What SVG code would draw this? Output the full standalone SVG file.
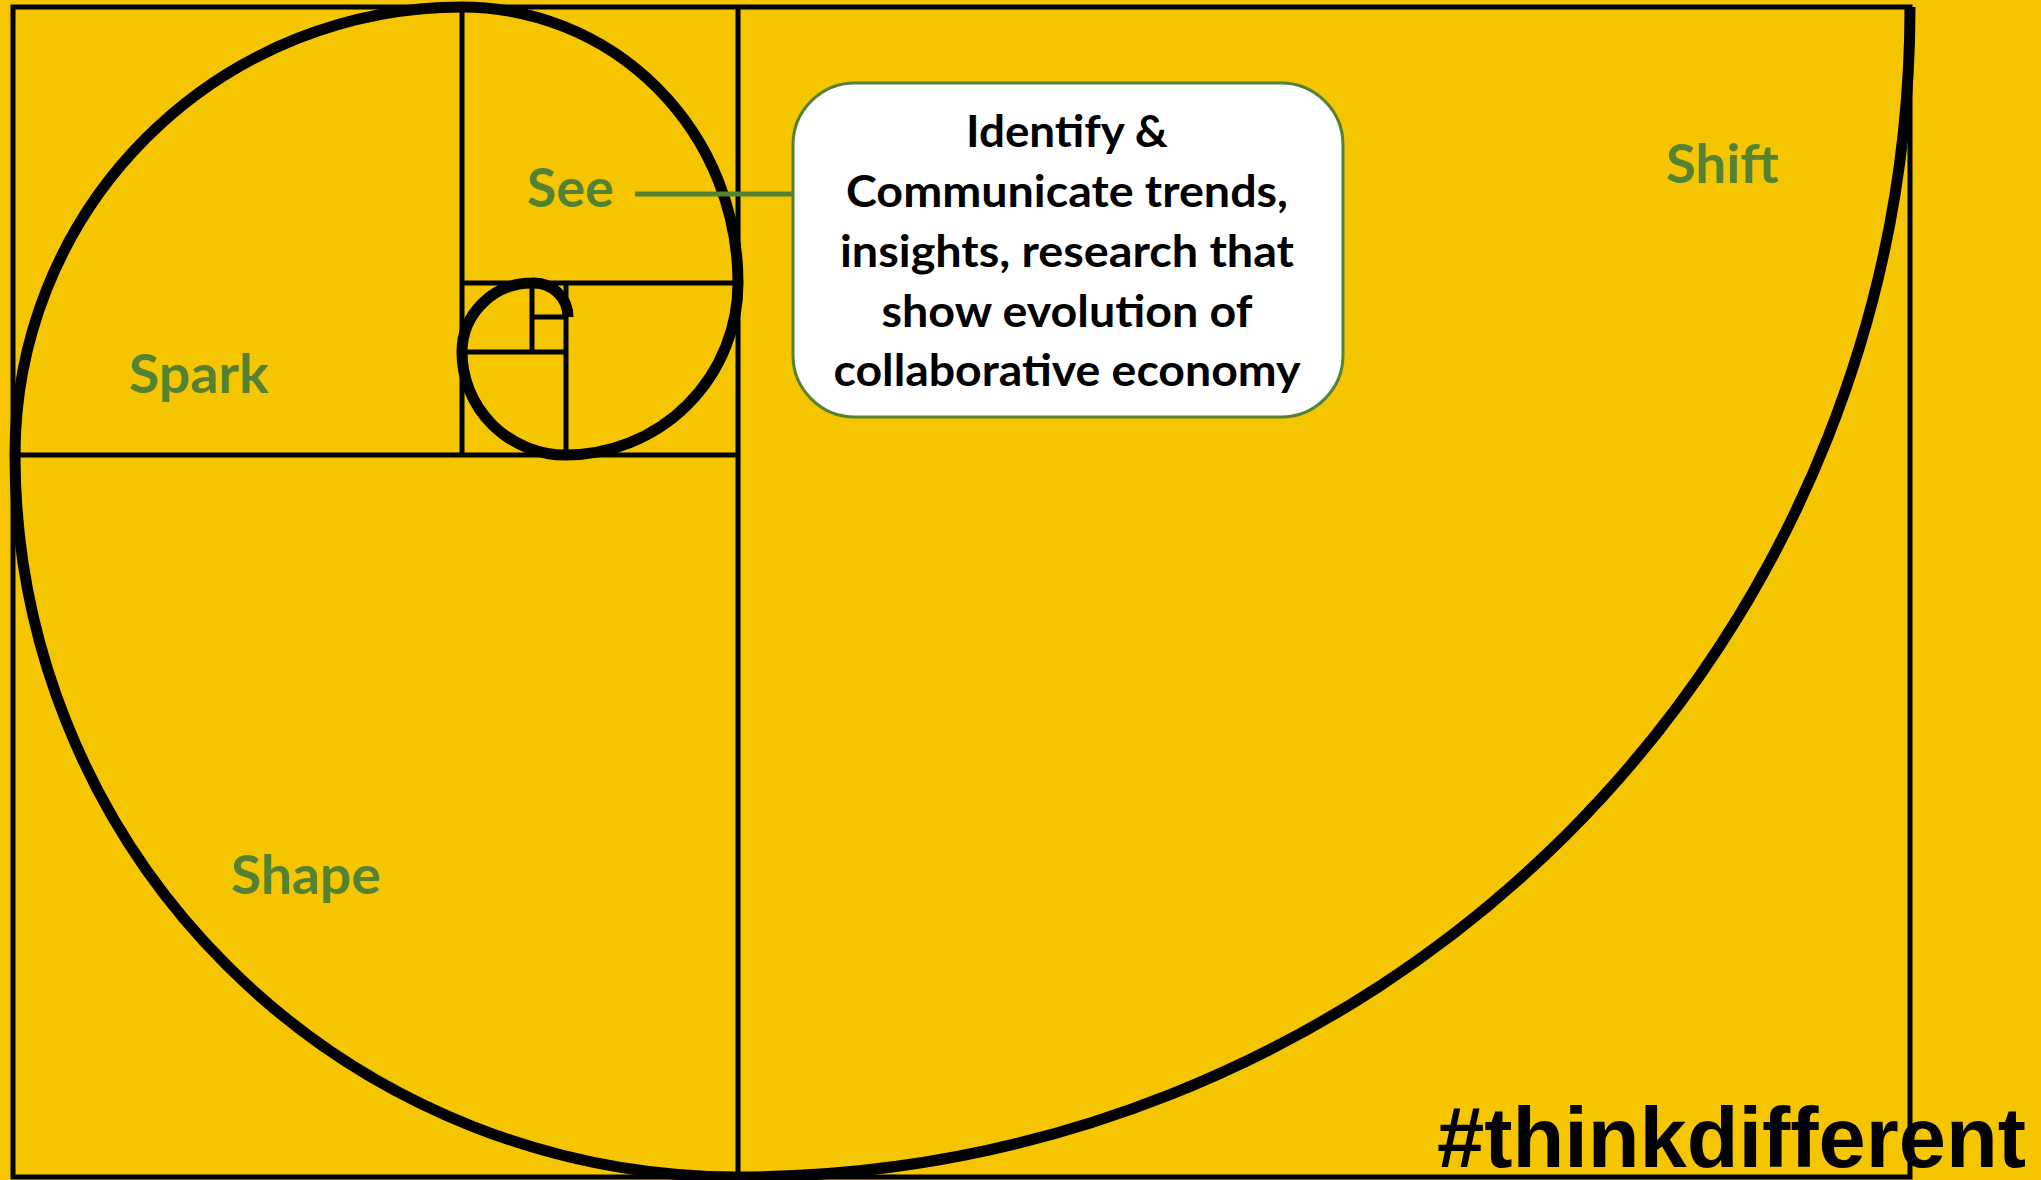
<svg xmlns="http://www.w3.org/2000/svg" width="2041" height="1180" viewBox="0 0 2041 1180">
  <style>
    .grid { fill: none; stroke: #000; stroke-width: 5; }
    .spiral { fill: none; stroke: #000; stroke-width: 11; stroke-linecap: butt; }
    .lbl { font-family: Lato, "Open Sans", sans-serif; font-weight: 700; font-size: 54px; fill: #548235; }
    .box { fill: #fff; stroke: #548235; stroke-width: 3; }
    .boxtxt { font-family: Lato, "Open Sans", sans-serif; font-weight: 700; font-size: 44px; fill: #000; text-anchor: middle; }
    .conn { stroke: #548235; stroke-width: 5; fill: none; }
    .tag { font-family: "Liberation Sans", Arial, sans-serif; font-weight: 700; font-size: 85px; fill: #000; }
  </style>
  <rect x="0" y="0" width="2041" height="1180" fill="#F5C500"/>
  <g id="grid">
    <rect class="grid" x="13" y="7" width="1897" height="1170"/>
    <line class="grid" x1="738" y1="7" x2="738" y2="1177"/>
    <line class="grid" x1="13" y1="455" x2="738" y2="455"/>
    <line class="grid" x1="462" y1="7" x2="462" y2="455"/>
    <line class="grid" x1="462" y1="283" x2="738" y2="283"/>
    <line class="grid" x1="566" y1="283" x2="566" y2="455"/>
    <line class="grid" x1="462" y1="352" x2="566" y2="352"/>
    <line class="grid" x1="532" y1="283" x2="532" y2="352"/>
    <line class="grid" x1="532" y1="317" x2="566" y2="317"/>
  </g>
  <g id="spiral">
    <path class="spiral" d="M1910,7 A1172,1170 0 0 1 738,1177 A724,722 0 0 1 15,455 A447,448 0 0 1 462,7 A276,276 0 0 1 738,283 A172,172 0 0 1 566,455 A104,103 0 0 1 462,352 A70,69 0 0 1 532,283 A34,34 0 0 1 568,317"/>
  </g>
  <g id="connectors">
    <line class="conn" x1="635" y1="194" x2="793" y2="194"/>
  </g>
  <g id="node-spark"><text class="lbl" x="129" y="393" textLength="140" lengthAdjust="spacingAndGlyphs">Spark</text></g>
  <g id="node-see"><text class="lbl" x="527" y="207" textLength="87" lengthAdjust="spacingAndGlyphs">See</text></g>
  <g id="node-shape"><text class="lbl" x="231" y="894" textLength="150" lengthAdjust="spacingAndGlyphs">Shape</text></g>
  <g id="node-shift"><text class="lbl" x="1666" y="183" textLength="113" lengthAdjust="spacingAndGlyphs">Shift</text></g>
  <g id="node-box">
    <rect class="box" x="793" y="83" width="550" height="334" rx="62" ry="62"/>
    <text class="boxtxt" x="1067" y="147" textLength="202" lengthAdjust="spacingAndGlyphs">Identify &amp;</text>
    <text class="boxtxt" x="1067" y="207" textLength="442" lengthAdjust="spacingAndGlyphs">Communicate trends,</text>
    <text class="boxtxt" x="1067" y="267" textLength="454" lengthAdjust="spacingAndGlyphs">insights, research that</text>
    <text class="boxtxt" x="1067" y="327" textLength="371" lengthAdjust="spacingAndGlyphs">show evolution of</text>
    <text class="boxtxt" x="1067" y="386" textLength="467" lengthAdjust="spacingAndGlyphs">collaborative economy</text>
  </g>
  <g id="node-tag"><text class="tag" x="1437" y="1167" textLength="589" lengthAdjust="spacingAndGlyphs">#thinkdifferent</text></g>
</svg>
